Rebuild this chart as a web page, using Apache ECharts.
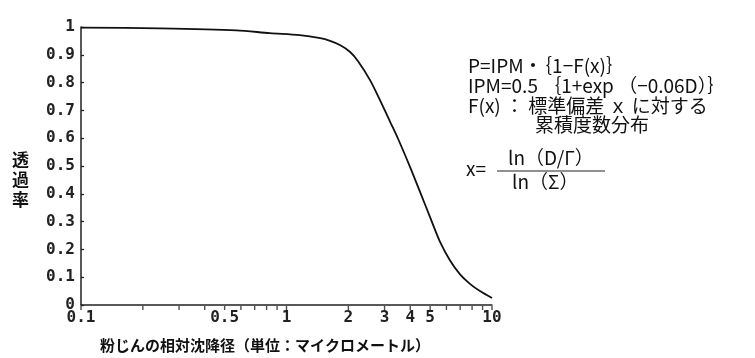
<!DOCTYPE html>
<html><head><meta charset="utf-8">
<script src="https://cdn.jsdelivr.net/npm/echarts@6/dist/echarts.min.js"></script>
<style>html,body{margin:0;padding:0;background:#fff}#c{width:755px;height:358px}</style>
</head><body><div id="c"></div>
<script>
// Data
const sizes = [0.1, 0.24, 0.57, 0.83, 1.16, 1.46, 1.63, 1.82, 2.04, 2.23, 2.55, 2.85, 3.19, 3.49, 3.99, 4.47, 4.99, 5.58, 6.25, 6.99, 7.81, 8.74, 10];
const transmission = [0.998, 0.995, 0.988, 0.978, 0.971, 0.960, 0.950, 0.935, 0.910, 0.877, 0.809, 0.737, 0.660, 0.598, 0.497, 0.406, 0.317, 0.228, 0.160, 0.110, 0.076, 0.050, 0.025];
const xTickValues = [0.1,0.2,0.3,0.4,0.5,0.6,0.7,0.8,0.9,1,2,3,4,5,6,7,8,9,10];
const xLabelValues = [0.1,0.5,1,2,3,4,5,10];
const yMin = 0, yMax = 1, yStep = 0.1;
const yAxisName = '透過率';
const xAxisName = '粉じんの相対沈降径（単位：マイクロメートル）';
const formulaLines = ['P=IPM・｛1−F(x)｝', 'IPM=0.5 ｛1+exp （−0.06D）｝', 'F(x) ： 標準偏差 ｘ に対する', '累積度数分布'];
const fracLeft = 'x=', fracNum = 'ln（D/Γ）', fracDen = 'ln（Σ）';

const FONT = '"Noto Sans CJK JP", "Noto Sans", sans-serif';
const NUMFONT = '"DejaVu Sans Mono", "Noto Sans CJK JP", monospace';
const txt = {fontFamily: FONT, fontSize: 19, fontWeight: 'normal', fill: '#111'};

const chart = echarts.init(document.getElementById('c'));
chart.setOption({
  animation: false,
  backgroundColor: '#fff',
  grid: {left: 81, right: 263, top: 27, bottom: 53},
  xAxis: {
    type: 'log', logBase: 10, min: 0.1, max: 10,
    axisLine: {show: true, lineStyle: {color: '#222', width: 1.5}},
    axisTick: {show: false},
    minorTick: {show: false},
    splitLine: {show: false},
    axisLabel: {customValues: xLabelValues, formatter: v => String(v), color: '#222', fontFamily: NUMFONT, fontSize: 16, fontWeight: 'bold', margin: 5}
  },
  yAxis: {
    type: 'value', min: yMin, max: yMax, interval: yStep,
    axisLine: {show: true, lineStyle: {color: '#222', width: 1.5}},
    axisTick: {show: true, inside: true, length: 3, lineStyle: {color: '#222', width: 1.3}},
    splitLine: {show: false},
    axisLabel: {formatter: v => (Math.round(v*10)/10).toString(), color: '#222', fontFamily: NUMFONT, fontSize: 16, fontWeight: 'bold', margin: 6}
  },
  series: [{
    type: 'line', data: sizes.map((s, i) => [s, transmission[i]]),
    smooth: 0.3, showSymbol: false, symbol: 'none',
    lineStyle: {color: '#111', width: 1.8}
  }, {
    // x-axis tick marks (log-spaced minor ticks) placed through the axis scale
    type: 'scatter', data: xTickValues.map(v => [v, yMin]),
    symbol: 'rect', symbolSize: [1.4, 4], symbolOffset: [0, 3],
    itemStyle: {color: '#222'}, clip: false, silent: true, z: 3
  }],
  graphic: [
    {type: 'text', left: 12, top: 150, style: Object.assign({}, txt, {text: yAxisName.split('').join('\n'), fontSize: 17, lineHeight: 20, fontWeight: 'bold'})},
    {type: 'text', left: 100, top: 338, style: Object.assign({}, txt, {text: xAxisName, fontSize: 15, fontWeight: 'bold'})},
    {type: 'text', left: 468, top: 56, style: Object.assign({}, txt, {text: formulaLines[0]})},
    {type: 'text', left: 468, top: 76, style: Object.assign({}, txt, {text: formulaLines[1]})},
    {type: 'text', left: 468, top: 96, style: Object.assign({}, txt, {text: formulaLines[2]})},
    {type: 'text', left: 535, top: 115, style: Object.assign({}, txt, {text: formulaLines[3]})},
    {type: 'text', left: 466, top: 159, style: Object.assign({}, txt, {text: fracLeft})},
    {type: 'text', left: 508, top: 148, style: Object.assign({}, txt, {text: fracNum})},
    {type: 'text', left: 512, top: 172, style: Object.assign({}, txt, {text: fracDen})},
    {type: 'line', shape: {x1: 497, y1: 171, x2: 605, y2: 171}, style: {stroke: '#222', lineWidth: 1.2}}
  ]
});
</script></body></html>
